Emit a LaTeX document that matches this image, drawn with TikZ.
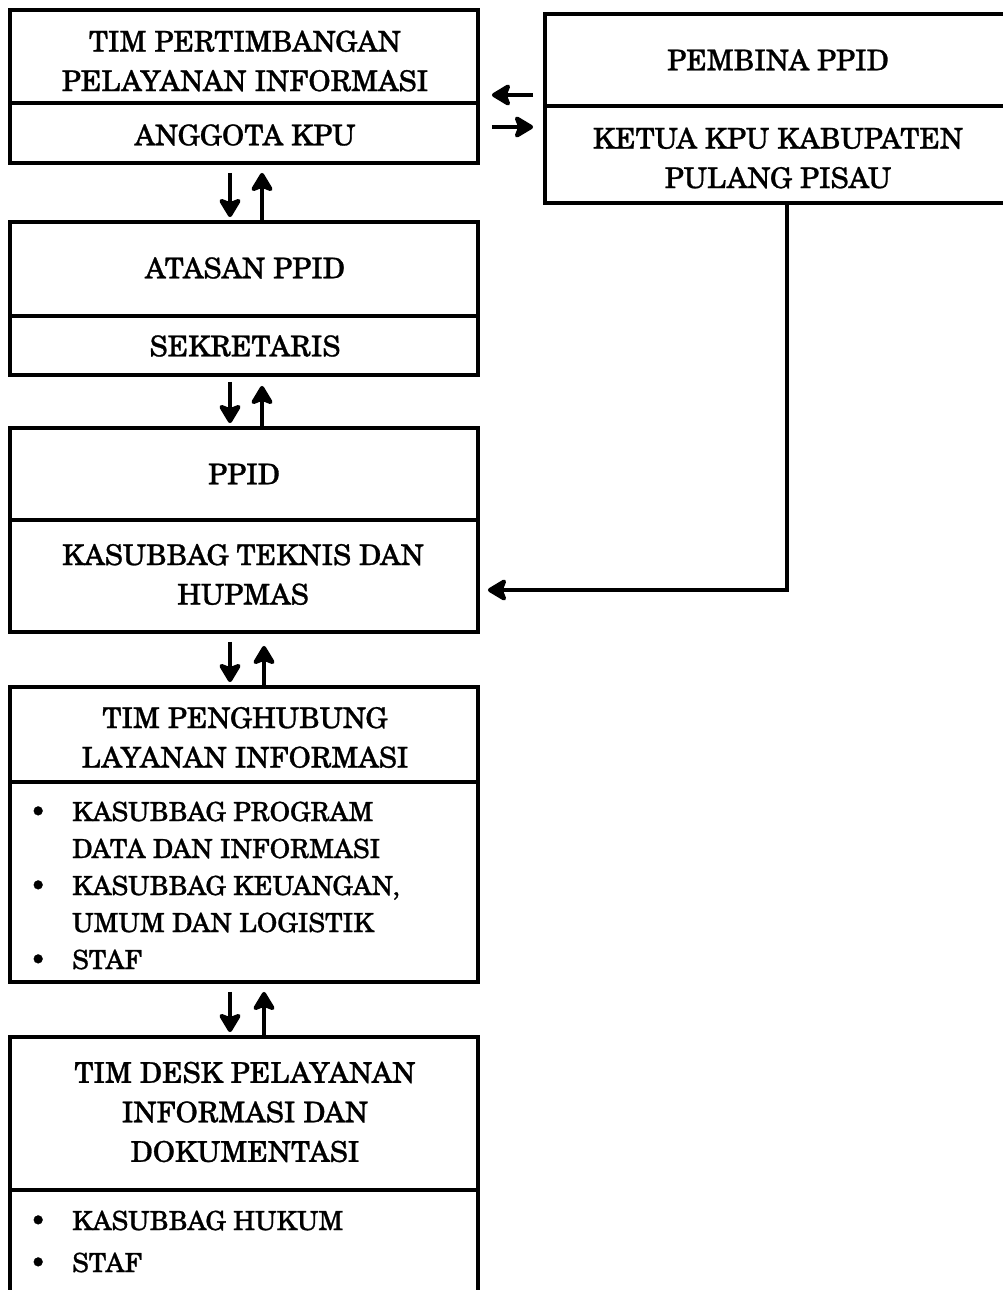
\documentclass[tikz,border=0pt]{standalone}
\usepackage{fontspec}
\setmainfont{texgyreschola}[Extension=.otf,UprightFont=*-regular,BoldFont=*-bold,FakeBold=1]
\usetikzlibrary{arrows.meta}
\newcommand\titlefont{\fontsize{28.5}{39.5}\selectfont}
\newcommand\blt{\makebox[68pt][c]{\textbullet}}
\begin{document}
\begin{tikzpicture}[x=1pt,y=-1pt,
  part/.style={draw,line width=3.8pt,inner sep=0pt,minimum width=468pt},
  title/.style={inner sep=0pt,align=center,font=\titlefont},
  arr/.style={line width=4.2pt,-{Stealth[round,length=22pt,width=26pt,inset=5pt]}},
  listtext/.style={inner sep=0pt,anchor=base west,align=left}]
\useasboundingbox (0,0) rectangle (1003,1290);
% left column boxes
\node[part,minimum height=93pt] (b1t) at (244,56.5) {};
\node[part,minimum height=60pt] (b1b) at (244,133) {};
\node[part,minimum height=94pt] (b2t) at (244,269) {};
\node[part,minimum height=59pt] (b2b) at (244,345.5) {};
\node[part,minimum height=92pt] (b3t) at (244,474) {};
\node[part,minimum height=112pt] (b3b) at (244,576) {};
\node[part,minimum height=95pt] (b4t) at (244,734.5) {};
\node[part,minimum height=200pt] (b4b) at (244,882) {};
\node[part,minimum height=153pt] (b5t) at (244,1113.5) {};
\node[part,minimum height=120pt] (b5b) at (244,1250) {};
% right box
\node[part,minimum width=470pt,minimum height=92pt] (rt) at (780,60) {};
\node[part,minimum width=470pt,minimum height=97pt] (rb) at (780,154.5) {};
% titles
\node[title] (t1t) at (245,61) {TIM PERTIMBANGAN\\PELAYANAN INFORMASI};
\node[title] (t1b) at (245,135) {ANGGOTA KPU};
\node[title] (t2t) at (245,268) {ATASAN PPID};
\node[title] (t2b) at (245,346) {SEKRETARIS};
\node[title] (t3t) at (244,474) {PPID};
\node[title] (t3b) at (243,574.5) {KASUBBAG TEKNIS DAN\\HUPMAS};
\node[title] (t4t) at (245,737.5) {TIM PENGHUBUNG\\LAYANAN INFORMASI};
\node[title] (t5t) at (245,1112) {TIM DESK PELAYANAN\\INFORMASI DAN\\DOKUMENTASI};
\node[title] (trt) at (778,60) {PEMBINA PPID};
\node[title] (trb) at (778,158) {KETUA KPU KABUPATEN\\PULANG PISAU};
% lists
\node[listtext,font=\fontsize{26.3}{37}\selectfont] (l4) at (4,821)
  {\begin{tabular}[t]{@{}l@{}l@{}}
   \blt & KASUBBAG PROGRAM\\
        & DATA DAN INFORMASI\\
   \blt & KASUBBAG KEUANGAN,\\
        & UMUM DAN LOGISTIK\\
   \blt & STAF
   \end{tabular}};
\node[listtext,font=\fontsize{26.3}{42}\selectfont] (l5) at (4,1230)
  {\begin{tabular}[t]{@{}l@{}l@{}}
   \blt & KASUBBAG HUKUM\\
   \blt & STAF
   \end{tabular}};
% horizontal arrows
\draw[arr,shorten <=10pt,shorten >=12pt] ([yshift=-35pt]rt.west) -- ([yshift=-35pt]rt.west -| b1t.east);
\draw[arr,shorten <=12pt,shorten >=10pt] ([yshift=6pt]b1b.east) -- ([yshift=6pt]b1b.east -| rb.west);
% vertical arrow pairs
\draw[arr,shorten <=8pt,shorten >=3pt] ([xshift=-14pt]b1b.south) -- ([xshift=-14pt]b2t.north);
\draw[arr,shorten >=8pt] ([xshift=18pt]b2t.north) -- ([xshift=18pt]b1b.south);
\draw[arr,shorten <=5pt,shorten >=3pt] ([xshift=-14pt]b2b.south) -- ([xshift=-14pt]b3t.north);
\draw[arr,shorten >=9pt] ([xshift=18pt]b3t.north) -- ([xshift=18pt]b2b.south);
\draw[arr,shorten <=8pt,shorten >=3pt] ([xshift=-14pt]b3b.south) -- ([xshift=-14pt]b4t.north);
\draw[arr,shorten >=12pt] ([xshift=20pt]b4t.north) -- ([xshift=20pt]b3b.south);
\draw[arr,shorten <=8pt,shorten >=3pt] ([xshift=-14pt]b4b.south) -- ([xshift=-14pt]b5t.north);
\draw[arr,shorten >=8pt] ([xshift=20pt]b5t.north) -- ([xshift=20pt]b4b.south);
% connector from right box to PPID
\coordinate (bend) at (787,590);
\draw[arr] (rb.south -| bend) -- (bend) -- ([xshift=8pt]bend -| b3b.east);
\end{tikzpicture}
\end{document}
